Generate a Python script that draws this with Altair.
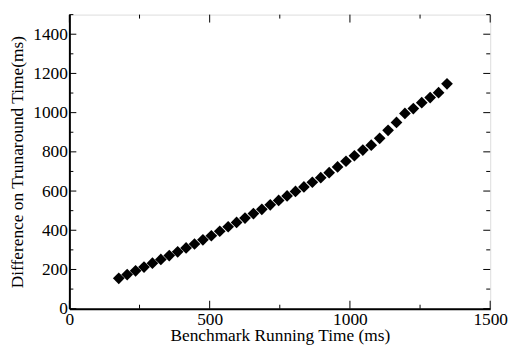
import altair as alt
import pandas as pd

# Benchmark running time (ms) and difference on turnaround time (ms)
run_time = [176, 206, 236, 266, 296, 326, 356, 386, 416, 446,
            476, 506, 536, 566, 596, 626, 656, 686, 716, 746,
            776, 806, 836, 866, 896, 926, 956, 986, 1016, 1046,
            1076, 1106, 1136, 1166, 1196, 1226, 1256, 1286, 1316, 1346]
diff_time = [155, 174, 193, 212, 232, 251, 271, 290, 310, 330,
             351, 372, 395, 418, 440, 462, 485, 507, 530, 552,
             575, 598, 621, 645, 668, 694, 723, 752, 780, 809,
             834, 869, 910, 950, 996, 1021, 1051, 1077, 1102, 1147]

x_major = [0, 500, 1000, 1500]
x_minor = [250, 750, 1250]
y_major = [0, 200, 400, 600, 800, 1000, 1200, 1400]
y_minor = [100, 300, 500, 700, 900, 1100, 1300, 1500]

W, H = 425, 297
FONT = "Times New Roman"

df = pd.DataFrame({"x": run_time, "y": diff_time})

xscale = alt.Scale(domain=[0, 1500], nice=False, zero=False)
yscale = alt.Scale(domain=[0, 1500], nice=False, zero=False)

points = alt.Chart(df).mark_point(
    shape="diamond", filled=True, color="black", size=140, opacity=1
).encode(
    x=alt.X("x:Q", scale=xscale, axis=alt.Axis(
        values=x_major, format="d", title="Benchmark Running Time (ms)",
        ticks=False, domain=True, domainColor="black", domainWidth=2,
        grid=False, labelPadding=2,
        labelFlush=False, labelFontSize=17.5, labelFont=FONT, labelColor="black",
        titleFont=FONT, titleFontSize=17.5, titleFontWeight="normal",
        titleColor="black", titleY=32, titleBaseline="alphabetic")),
    y=alt.Y("y:Q", scale=yscale, axis=alt.Axis(
        values=y_major, format="d", title="Difference on Trunaround Time(ms)",
        ticks=False, domain=True, domainColor="black", domainWidth=2,
        grid=False, labelPadding=2,
        labelFontSize=17.5, labelFont=FONT, labelColor="black",
        labelBaseline="middle",
        titleFont=FONT, titleFontSize=17.5, titleFontWeight="normal",
        titleColor="black", titleX=-43, titleY=H / 2)),
)


def xticks(vals, length):
    d = pd.DataFrame({"x": vals})
    base = alt.Chart(d).mark_rule(color="black", strokeWidth=1)
    bottom = base.encode(x=alt.X("x:Q", scale=xscale), y=alt.value(H), y2=alt.value(H - length))
    top = base.encode(x=alt.X("x:Q", scale=xscale), y=alt.value(0), y2=alt.value(length))
    return [bottom, top]


def yticks(vals, length):
    d = pd.DataFrame({"y": vals})
    base = alt.Chart(d).mark_rule(color="black", strokeWidth=1)
    left = base.encode(y=alt.Y("y:Q", scale=yscale), x=alt.value(0), x2=alt.value(length))
    right = base.encode(y=alt.Y("y:Q", scale=yscale), x=alt.value(W), x2=alt.value(W - length))
    return [left, right]


layers = (xticks(x_major, 8) + xticks(x_minor, 4)
          + yticks(y_major, 7) + yticks(y_minor, 4) + [points])

chart = alt.layer(*layers).properties(
    width=W, height=H,
    autosize=alt.AutoSizeParams(type="none"),
    padding={"left": 62, "top": 5, "right": 20, "bottom": 35},
).configure_view(
    stroke="black", strokeWidth=2
).configure(background="white")

chart.save("out.html", embed_options={"renderer": "svg", "actions": False})
